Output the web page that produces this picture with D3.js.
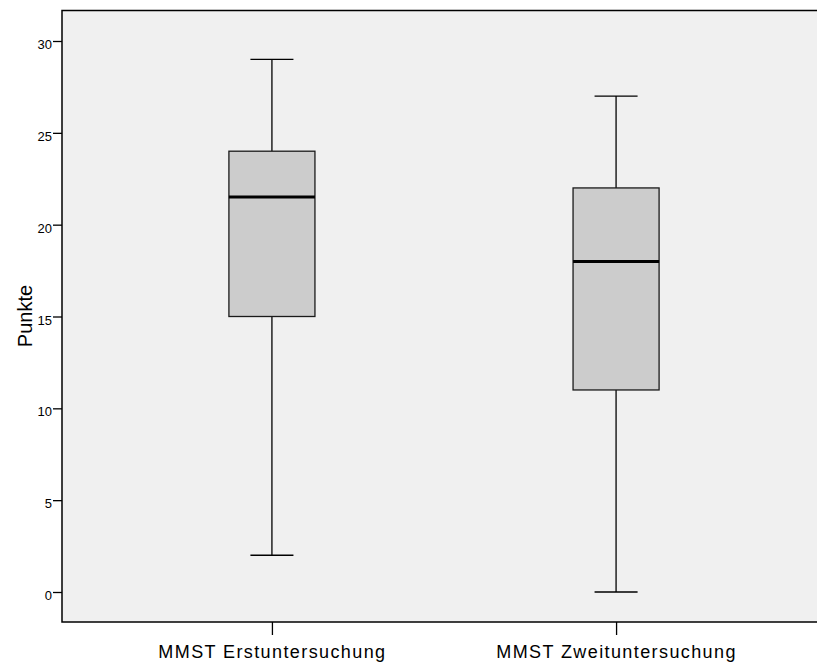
<!DOCTYPE html>
<html>
<head>
<meta charset="utf-8">
<script src="https://cdn.jsdelivr.net/npm/d3@7"></script>
<style>
  html, body { margin: 0; padding: 0; background: #fff; }
  svg { display: block; font-family: "Liberation Sans", Arial, sans-serif; }
</style>
</head>
<body>
<svg id="chart" width="817" height="666"></svg>
<script>
// Box plot statistics per measurement
const categories = ["MMST Erstuntersuchung", "MMST Zweituntersuchung"];
const whiskerLow = [2, 0];
const q1 = [15, 11];
const median = [21.5, 18];
const q3 = [24, 22];
const whiskerHigh = [29, 27];
const yTicks = [0, 5, 10, 15, 20, 25, 30];
const yLabel = "Punkte";

const svg = d3.select("#chart");
// the plot frame runs past the right edge of the page
const plot = { left: 62, right: 826, top: 10.5, bottom: 622, frameRight: 850 };

const x = d3.scalePoint().domain(categories).range([plot.left, plot.right]).padding(0.61);
const y = d3.scaleLinear().domain([0, 30]).range([592, 41]);
const step = x.step();
const boxW = step * 0.25;
const capW = boxW / 2;

// plot background
svg.append("rect")
  .attr("x", plot.left).attr("y", plot.top)
  .attr("width", plot.frameRight - plot.left).attr("height", plot.bottom - plot.top)
  .attr("fill", "#f0f0f0");

const data = categories.map((c, i) => ({
  c, lo: whiskerLow[i], q1: q1[i], med: median[i], q3: q3[i], hi: whiskerHigh[i]
}));

const g = svg.append("g").selectAll("g").data(data).join("g");

// whiskers
g.append("line").attr("x1", d => x(d.c)).attr("x2", d => x(d.c))
  .attr("y1", d => y(d.hi)).attr("y2", d => y(d.q3))
  .attr("stroke", "#000").attr("stroke-width", 1.3);
g.append("line").attr("x1", d => x(d.c)).attr("x2", d => x(d.c))
  .attr("y1", d => y(d.q1)).attr("y2", d => y(d.lo))
  .attr("stroke", "#000").attr("stroke-width", 1.3);
// caps
g.append("line").attr("x1", d => x(d.c) - capW / 2).attr("x2", d => x(d.c) + capW / 2)
  .attr("y1", d => y(d.hi)).attr("y2", d => y(d.hi))
  .attr("stroke", "#000").attr("stroke-width", 1.3);
g.append("line").attr("x1", d => x(d.c) - capW / 2).attr("x2", d => x(d.c) + capW / 2)
  .attr("y1", d => y(d.lo)).attr("y2", d => y(d.lo))
  .attr("stroke", "#000").attr("stroke-width", 1.3);
// boxes
g.append("rect")
  .attr("x", d => x(d.c) - boxW / 2).attr("width", boxW)
  .attr("y", d => y(d.q3)).attr("height", d => y(d.q1) - y(d.q3))
  .attr("fill", "#cccccc").attr("stroke", "#1a1a1a").attr("stroke-width", 1.3);
// medians
g.append("line").attr("x1", d => x(d.c) - boxW / 2).attr("x2", d => x(d.c) + boxW / 2)
  .attr("y1", d => y(d.med)).attr("y2", d => y(d.med))
  .attr("stroke", "#000").attr("stroke-width", 3);

// frame
svg.append("rect")
  .attr("x", plot.left).attr("y", plot.top)
  .attr("width", plot.frameRight - plot.left).attr("height", plot.bottom - plot.top)
  .attr("fill", "none").attr("stroke", "#000").attr("stroke-width", 1.5);

// y axis
const yAxis = svg.append("g").attr("transform", `translate(${plot.left},0)`)
  .call(d3.axisLeft(y).tickValues(yTicks).tickSize(9).tickPadding(1));
yAxis.select(".domain").remove();
yAxis.selectAll(".tick line").attr("stroke", "#000").attr("stroke-width", 1.3);
yAxis.selectAll(".tick text").attr("fill", "#000").attr("dy", "0.58em")
  .style("font-size", "13px")
  .style("font-family", "'Liberation Sans', Arial, sans-serif");

// x axis
const xAxis = svg.append("g").attr("transform", `translate(0,${plot.bottom})`)
  .call(d3.axisBottom(x).tickSize(13).tickPadding(10));
xAxis.select(".domain").remove();
xAxis.selectAll(".tick line").attr("stroke", "#000").attr("stroke-width", 1.3);
xAxis.selectAll(".tick text").attr("fill", "#000")
  .style("font-size", "18px").style("letter-spacing", "1.4px")
  .style("font-family", "'Liberation Sans', Arial, sans-serif");

// y label
svg.append("text")
  .attr("transform", `translate(32,316) rotate(-90)`)
  .attr("text-anchor", "middle")
  .style("font-size", "20px")
  .attr("fill", "#000")
  .text(yLabel);
</script>
</body>
</html>
